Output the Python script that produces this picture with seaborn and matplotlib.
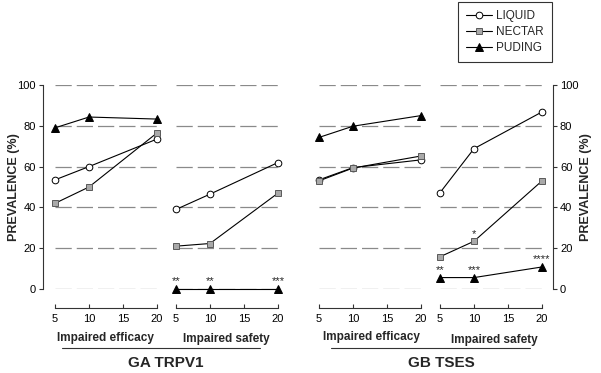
import matplotlib
matplotlib.use("Agg")
import matplotlib.pyplot as plt
from matplotlib.lines import Line2D
import pandas as pd
import seaborn as sns

# doses on the x axis
doses = [5, 10, 20]
yticks = [0, 20, 40, 60, 80, 100]
xticks = [5, 10, 15, 20]

# GA TRPV1 - impaired efficacy
ga_eff_liquid = [53.5, 60.0, 73.5]
ga_eff_nectar = [42.0, 50.0, 76.5]
ga_eff_puding = [79.0, 84.3, 83.3]
# GA TRPV1 - impaired safety
ga_saf_liquid = [39.0, 46.5, 62.0]
ga_saf_nectar = [21.0, 22.3, 47.0]
ga_saf_puding = [0.0, 0.0, 0.0]
# GB TSES - impaired efficacy
gb_eff_liquid = [53.5, 59.5, 63.3]
gb_eff_nectar = [53.0, 59.3, 65.2]
gb_eff_puding = [74.3, 79.8, 85.0]
# GB TSES - impaired safety
gb_saf_liquid = [47.2, 68.8, 86.8]
gb_saf_nectar = [15.8, 23.4, 53.0]
gb_saf_puding = [5.6, 5.6, 10.8]

# significance marks
ga_saf_puding_stars = ["**", "**", "***"]
gb_saf_puding_stars = ["**", "***", "****"]
gb_saf_nectar_stars = ["", "*", ""]

sns.set_style("ticks")
plt.rcParams["font.family"] = ["Liberation Sans", "DejaVu Sans"]

W, H = 601, 373
fig = plt.figure(figsize=(W / 100, H / 100), dpi=100)

# 每个面板的像素位置: 左边, x=5, x=20, 右边
panel_px = [(43, 55, 157, 165), (168, 176, 278, 285),
            (311, 319, 421, 428), (432, 440, 542, 553)]
y_bot, y_top = 289, 85

styles = {
    "LIQUID": dict(marker="o", markerfacecolor="white", markeredgecolor="black", markersize=4.8),
    "NECTAR": dict(marker="s", markerfacecolor="#a9a9a9", markeredgecolor="#5a5a5a", markersize=5),
    "PUDING": dict(marker="^", markerfacecolor="black", markeredgecolor="black", markersize=5.5),
}

panel_data = [
    (ga_eff_liquid, ga_eff_nectar, ga_eff_puding),
    (ga_saf_liquid, ga_saf_nectar, ga_saf_puding),
    (gb_eff_liquid, gb_eff_nectar, gb_eff_puding),
    (gb_saf_liquid, gb_saf_nectar, gb_saf_puding),
]

axes = []
for i, ((left, x5, x20, right), vals) in enumerate(zip(panel_px, panel_data)):
    ax = fig.add_axes([left / W, 1 - y_bot / H, (right - left) / W, (y_bot - y_top) / H])
    ax.set_facecolor("none")
    ppu = (x20 - x5) / 15
    ax.set_xlim(5 - (x5 - left) / ppu, 20 + (right - x20) / ppu)
    ax.set_ylim(0, 100)
    # dashed reference lines
    ax.hlines(yticks, 5, 20, colors="#8a8a8a", linewidth=0.9,
              linestyles=(0, (13, 4)), zorder=0)
    for name, v in zip(["LIQUID", "NECTAR", "PUDING"], vals):
        df = pd.DataFrame({"dose": doses, "prev": v})
        sns.lineplot(data=df, x="dose", y="prev", ax=ax, color="black",
                     linewidth=0.8, markeredgewidth=0.7, clip_on=False,
                     label=name, legend=False, zorder=3, **styles[name])
    ax.set_xlabel("")
    ax.set_ylabel("")
    ax.set_xticks(xticks)
    ax.spines["top"].set_visible(False)
    ax.spines["bottom"].set_position(("outward", 13.5))
    ax.spines["bottom"].set_bounds(5, 20)
    ax.tick_params(axis="x", direction="in", length=3, width=0.8, pad=4.5,
                   labelsize=8, colors="#333333", labelcolor="black")
    ax.tick_params(axis="y", direction="out", length=3, width=0.8, pad=2,
                   labelsize=8, colors="#333333", labelcolor="black")
    for s in ax.spines.values():
        s.set_linewidth(0.8)
        s.set_color("#333333")
    if i == 0:
        ax.spines["right"].set_visible(False)
        ax.set_yticks(yticks)
    elif i == 3:
        ax.spines["left"].set_visible(False)
        ax.yaxis.tick_right()
        ax.set_yticks(yticks)
    else:
        ax.spines["left"].set_visible(False)
        ax.spines["right"].set_visible(False)
        ax.set_yticks([])
    axes.append(ax)

# 显著性标记
def stars(ax, ys, marks):
    for x, y, s in zip(doses, ys, marks):
        ax.annotate(s, (x, y), xytext=(0, 5.5), textcoords="offset points",
                    ha="center", va="center", fontsize=8)

stars(axes[1], ga_saf_puding, ga_saf_puding_stars)
stars(axes[3], gb_saf_puding, gb_saf_puding_stars)
stars(axes[3], gb_saf_nectar, gb_saf_nectar_stars)

# y labels
fig.text(14 / W, 1 - 187 / H, "PREVALENCE (%)", rotation=90, ha="center", va="center",
         fontsize=9, fontweight="bold")
fig.text(586 / W, 1 - 187 / H, "PREVALENCE (%)", rotation=90, ha="center", va="center",
         fontsize=9, fontweight="bold")

# group labels
for cx, cy, t in [(105, 338, "Impaired efficacy"), (226, 339, "Impaired safety"),
                  (371, 337, "Impaired efficacy"), (494, 340, "Impaired safety")]:
    fig.text(cx / W, 1 - cy / H, t, ha="center", va="center", fontsize=8.5, fontweight="bold")
for x0, x1 in [(62, 260), (331, 530)]:
    fig.add_artist(Line2D([x0 / W, x1 / W], [1 - 348 / H, 1 - 348 / H],
                          color="#333333", linewidth=0.8, transform=fig.transFigure))
fig.text(166 / W, 1 - 363 / H, "GA TRPV1", ha="center", va="center", fontsize=11, fontweight="bold")
fig.text(441 / W, 1 - 363 / H, "GB TSES", ha="center", va="center", fontsize=11, fontweight="bold")

# legend
handles, labels = axes[0].get_legend_handles_labels()
leg = fig.legend(handles, labels, loc="upper left", bbox_to_anchor=(458 / W, 1 - 2 / H),
                 fontsize=8.5, frameon=True, fancybox=False, edgecolor="black",
                 handlelength=2.2, handletextpad=0.4, labelspacing=0.35, borderpad=0.65,
                 borderaxespad=0)
leg.get_frame().set_linewidth(0.8)

fig.savefig("out.png", dpi=100)
